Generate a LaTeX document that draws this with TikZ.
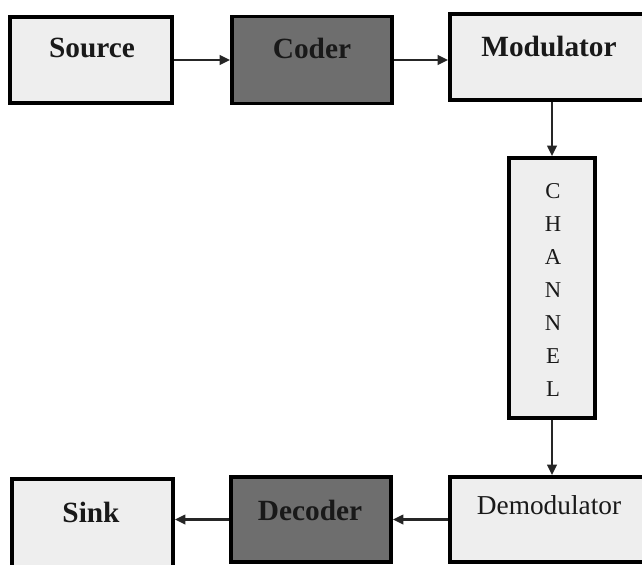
\documentclass[tikz,border=0pt]{standalone}
\usepackage{fontspec}
\setmainfont{Liberation Serif}
\usetikzlibrary{arrows.meta,calc}
\definecolor{lightbox}{HTML}{EEEEEE}
\definecolor{darkbox}{HTML}{6E6E6E}
\tikzset{
  blk/.style={draw=black, line width=2.6pt, inner sep=0pt},
  lightblk/.style={blk, fill=lightbox},
  darkblk/.style={blk, fill=darkbox},
  lbl/.style={inner sep=0pt, font=\fontsize{22}{26}\selectfont\bfseries, text=black!90},
  conn/.style={line width=1.9pt, draw=black!85, -{Triangle[length=8pt,width=7pt]}},
}
\begin{document}
\begin{tikzpicture}[x=0.75pt,y=-0.75pt]
\useasboundingbox (0,0) rectangle (642,564);
\clip (0,0) rectangle (642,564);
\fill[white] (0,0) rectangle (642,564);
% boxes
\node[lightblk, minimum width=121.5pt, minimum height=64.5pt] (src) at (91,60) {};
\node[darkblk, minimum width=120pt, minimum height=65.25pt] (cod) at (312,60) {};
\node[lightblk, minimum width=150pt, minimum height=64.5pt] (mod) at (550,57) {};
\node[lightblk, minimum width=64.5pt, minimum height=195pt] (chn) at (552,288) {};
\node[lightblk, minimum width=150pt, minimum height=63.75pt] (dem) at (550,519.5) {};
\node[darkblk, minimum width=120pt, minimum height=63.75pt] (dec) at (311,519.5) {};
\node[lightblk, minimum width=120.75pt, minimum height=66pt] (snk) at (92.5,523) {};
% labels
\node[lbl] (tsrc) at (92,48) {Source};
\node[lbl] (tcod) at (312,48) {Coder};
\node[lbl] (tmod) at (549,47) {Modulator};
\node[lbl] (tsnk) at (91,512) {Sink};
\node[lbl] (tdec) at (310,510) {Decoder};
\node[inner sep=0pt, font=\fontsize{20.5}{24}\selectfont, text=black!90] (tdem) at (549,505) {Demodulator};
\node[inner sep=0pt, font=\fontsize{17}{24.75}\selectfont, text=black!90, align=center, anchor=north] (tchn) at (553,183) {C\\H\\A\\N\\N\\E\\L};
% connectors
\draw[conn] (src.east) -- (cod.west);
\draw[conn] (cod.east) -- (cod.east -| mod.west);
\draw[conn] (chn.north |- mod.south) -- (chn.north);
\draw[conn] (chn.south) -- (chn.south |- dem.north);
\draw[conn] (dem.west) -- (dec.east);
\draw[conn] (dec.west) -- (dec.west -| snk.east);
\end{tikzpicture}
\end{document}
